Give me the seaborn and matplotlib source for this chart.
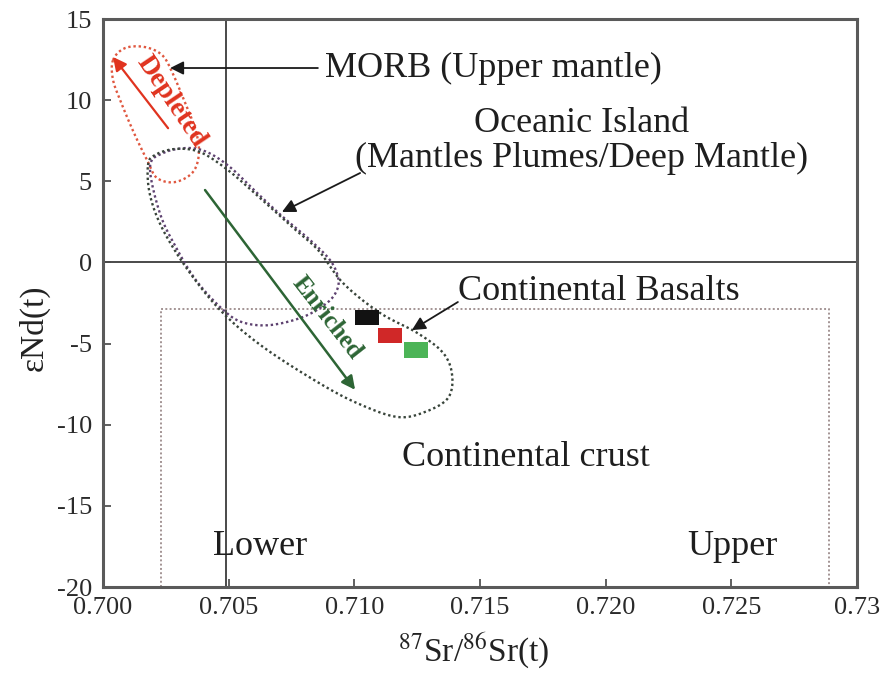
import numpy as np
import pandas as pd
import matplotlib
matplotlib.use("Agg")
import matplotlib.pyplot as plt
import seaborn as sns

# Sample compositions
sr_ratio = [0.71050, 0.71142, 0.71245]
end_t = [-3.4, -4.5, -5.4]
sample_ids = ["a", "b", "c"]
sample_colors = ["#121212", "#d02828", "#4cb457"]

# Reservoir outlines (87Sr/86Sr, eNd)
morb_sr = [0.70040, 0.70088, 0.70167, 0.70235, 0.70275, 0.70322, 0.70366, 0.70382,
           0.70358, 0.70286, 0.70215, 0.70179, 0.70127, 0.70076, 0.70040]
morb_nd = [12.47, 13.21, 13.27, 12.78, 11.73, 10.01, 8.28, 6.80,
           5.57, 4.95, 5.20, 6.19, 7.85, 9.70, 11.24]

oib_sr = [0.70187, 0.70239, 0.70334, 0.70414, 0.70505, 0.70613, 0.70716, 0.70824,
          0.70903, 0.70935, 0.70931, 0.70891, 0.70796, 0.70665, 0.70557, 0.70480,
          0.70375, 0.70295, 0.70227]
oib_nd = [5.88, 6.74, 7.05, 6.80, 5.88, 4.28, 2.80, 1.38,
          0.15, -0.90, -1.70, -2.50, -3.36, -3.86, -3.70, -2.95,
          -1.20, 0.80, 3.00]

cb_sr = [0.70179, 0.70207, 0.70286, 0.70386, 0.70497, 0.70625, 0.70744, 0.70856,
         0.70955, 0.71102, 0.71250, 0.71353, 0.71389, 0.71373, 0.71282, 0.71170,
         0.71011, 0.70852, 0.70637, 0.70477, 0.70346, 0.70239, 0.70187]
cb_nd = [6.00, 6.62, 6.99, 6.80, 5.69, 3.97, 2.30, 0.76,
         -1.27, -3.11, -4.34, -5.57, -6.93, -8.35, -9.21, -9.52,
         -8.67, -7.36, -5.21, -3.11, -0.65, 2.00, 4.15]

crust_sr = [0.7023, 0.7289]
crust_nd_top = -2.9

bulk_earth_sr = 0.7049
x_ticks = [0.700, 0.705, 0.710, 0.715, 0.720, 0.725, 0.730]
x_tick_labels = ["0.700", "0.705", "0.710", "0.715", "0.720", "0.725", "0.73"]
y_ticks = [15, 10, 5, 0, -5, -10, -15, -20]


def closed_curve(xs, ys, n=24):
    """Smooth closed Catmull-Rom curve through the outline vertices."""
    p = np.column_stack([xs, ys])
    m = len(p)
    t = np.linspace(0, 1, n, endpoint=False)[:, None]
    segs = []
    for i in range(m):
        p0, p1, p2, p3 = p[i - 1], p[i], p[(i + 1) % m], p[(i + 2) % m]
        segs.append(0.5 * (2 * p1 + (-p0 + p2) * t
                           + (2 * p0 - 5 * p1 + 4 * p2 - p3) * t ** 2
                           + (-p0 + 3 * p1 - 3 * p2 + p3) * t ** 3))
    segs.append(segs[0][:1])
    c = np.vstack(segs)
    return c[:, 0], c[:, 1]


sns.set_theme(style="ticks")
plt.rcParams["font.family"] = ["Liberation Serif", "DejaVu Serif"]
plt.rcParams["mathtext.fontset"] = "stix"
plt.rcParams["axes.unicode_minus"] = False

fig = plt.figure(figsize=(8.8, 6.73), dpi=100)
ax = fig.add_axes([103 / 880, 1 - 587 / 673, 754 / 880, 568 / 673])

dot = (0, (1.0, 1.2))

# Continental crust field
ax.plot([crust_sr[0], crust_sr[0], crust_sr[1], crust_sr[1]],
        [-20, crust_nd_top, crust_nd_top, -20],
        color="#a39494", lw=1.4, ls=dot, zorder=2)

# Reference lines
ax.axhline(0, color="#4a4a4a", lw=1.4, zorder=1)
ax.axvline(bulk_earth_sr, color="#4a4a4a", lw=1.4, zorder=1)

# Reservoir envelopes
for xs, ys, col in [(morb_sr, morb_nd, "#e0573f"),
                    (oib_sr, oib_nd, "#5e4270"),
                    (cb_sr, cb_nd, "#38443a")]:
    cx, cy = closed_curve(xs, ys)
    ax.plot(cx, cy, color=col, lw=1.7, ls=dot, zorder=3)

# Samples
df = pd.DataFrame({"sr": sr_ratio, "nd": end_t, "id": sample_ids})
rect = [(-1.5, -1), (1.5, -1), (1.5, 1), (-1.5, 1), (-1.5, -1)]
sns.scatterplot(data=df, x="sr", y="nd", hue="id", palette=sample_colors,
                marker=rect, s=290, linewidth=0, legend=False, ax=ax, zorder=5)

# Trend arrows
ax.annotate("", xy=(0.70040, 12.66), xytext=(0.70259, 8.27),
            arrowprops=dict(arrowstyle="-|>", color="#e0331f", lw=1.6,
                            mutation_scale=20, shrinkA=0, shrinkB=0), zorder=6)
ax.text(0.70270, 9.90, "Depleted", color="#e0331f", fontsize=20, fontweight="bold",
        rotation=-56, rotation_mode="anchor", ha="center", va="center", zorder=6)

ax.annotate("", xy=(0.71003, -7.85), xytext=(0.70406, 4.46),
            arrowprops=dict(arrowstyle="-|>", color="#2d6535", lw=1.8,
                            mutation_scale=20, shrinkA=0, shrinkB=0), zorder=6)
ax.text(0.70890, -3.42, "Enriched", color="#2d6535", fontsize=18, fontweight="bold",
        rotation=-52, rotation_mode="anchor", ha="center", va="center", zorder=6)

# Labels and pointers
black_arrow = dict(arrowstyle="-|>", color="#1a1a1a", lw=1.3,
                   mutation_scale=20, shrinkA=0, shrinkB=0)
fs = 26
tc = "#1e1e1e"
ax.text(0.70883, 11.98, "MORB (Upper mantle)", fontsize=fs, ha="left", va="center", color=tc)
ax.annotate("", xy=(0.70267, 11.98), xytext=(0.70855, 11.98), arrowprops=black_arrow)
ax.text(0.71906, 8.59, "Oceanic Island", fontsize=fs, ha="center", va="center", color=tc)
ax.text(0.71906, 6.43, "(Mantles Plumes/Deep Mantle)", fontsize=fs, ha="center", va="center",
        color=tc)
ax.annotate("", xy=(0.70712, 3.11), xytext=(0.71023, 5.51), arrowprops=black_arrow)
ax.text(0.71412, -1.82, "Continental Basalts", fontsize=fs, ha="left", va="center", color=tc)
ax.annotate("", xy=(0.71229, -4.17), xytext=(0.71412, -2.44), arrowprops=black_arrow)
ax.text(0.71190, -12.05, "Continental crust", fontsize=fs, ha="left", va="center", color=tc)
ax.text(0.70438, -17.53, "Lower", fontsize=fs, ha="left", va="center", color=tc)
ax.text(0.72324, -17.53, "Upper", fontsize=fs, ha="left", va="center", color=tc)

# Axes
ax.set_xlim(0.700, 0.730)
ax.set_ylim(-20, 15)
ax.set_xticks(x_ticks)
ax.set_xticklabels(x_tick_labels)
ax.set_yticks(y_ticks)
ax.tick_params(direction="in", length=6, width=1.2, color="#444444",
               labelsize=19, labelcolor="#2a2a2a")
ax.tick_params(axis="x", pad=7)
ax.tick_params(axis="y", pad=8)
for sp in ax.spines.values():
    sp.set_color("#5a5a5a")
    sp.set_linewidth(2.2)

ax.set_xlabel(r"$^{87}$Sr/$^{86}$Sr(t)", fontsize=24, color="#222222")
ax.set_ylabel("εNd(t)", fontsize=24, color="#222222")
ax.xaxis.set_label_coords(0.491, -0.078)
ax.yaxis.set_label_coords(-0.07, 0.456)

fig.savefig("out.png", dpi=100, facecolor="white")
